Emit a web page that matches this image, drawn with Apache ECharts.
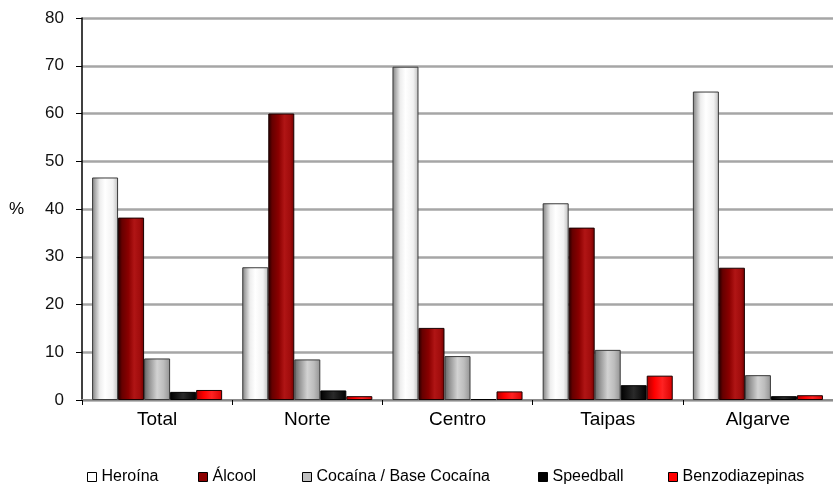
<!DOCTYPE html>
<html>
<head>
<meta charset="utf-8">
<script src="https://cdn.jsdelivr.net/npm/echarts@6/dist/echarts.min.js"></script>
<style>
html,body{margin:0;padding:0;background:#fff;}
#chart{width:833px;height:484px;}
</style>
</head>
<body>
<div id="chart"></div>
<script>
const categories = ['Total', 'Norte', 'Centro', 'Taipas', 'Algarve'];
const seriesNames = ['Heroína', 'Álcool', 'Cocaína / Base Cocaína', 'Speedball', 'Benzodiazepinas'];
const heroina = [46.6, 27.8, 69.8, 41.2, 64.6];
const alcool = [38.2, 60.0, 15.1, 36.1, 27.7];
const cocaina = [8.7, 8.5, 9.2, 10.5, 5.2];
const speedball = [1.7, 2.0, 0.2, 3.1, 0.8];
const benzo = [2.1, 0.8, 1.8, 5.1, 1.0];
const yTicks = [0, 10, 20, 30, 40, 50, 60, 70, 80];

const seriesData = [heroina, alcool, cocaina, speedball, benzo];

function grad(stops) {
  return {type: 'linear', x: 0, y: 0, x2: 1, y2: 0,
    colorStops: stops.map(s => ({offset: s[0], color: s[1]}))};
}
const fills = [
  grad([[0,'#7e7e7e'],[0.12,'#acacac'],[0.3,'#eeeeee'],[0.5,'#ffffff'],[0.8,'#f2f2f2'],[1,'#bdbdbd']]),
  grad([[0,'#220000'],[0.15,'#660000'],[0.4,'#8b0000'],[0.62,'#b01515'],[0.85,'#a00c0c'],[1,'#700000']]),
  grad([[0,'#666666'],[0.2,'#949494'],[0.5,'#d2d2d2'],[0.75,'#bdbdbd'],[1,'#939393']]),
  grad([[0,'#000000'],[0.5,'#2a2a2a'],[1,'#000000']]),
  grad([[0,'#aa0000'],[0.3,'#ff0000'],[0.6,'#ff2222'],[1,'#d80000']])
];
const borders = ['#3a3a3a', '#1a0000', '#3a3a3a', '#000000', '#1a0000'];
const legendIcons = ['#ffffff', '#8b0000', '#c0c0c0', '#000000', '#ff0000'];
const legendLeft = [82, 193, 297, 533, 663];

const chart = echarts.init(document.getElementById('chart'), null, {renderer: 'canvas'});

const legends = seriesNames.map((n, i) => ({
  left: legendLeft[i], top: 464, orient: 'horizontal',
  selectedMode: false, icon: 'rect', itemWidth: 9, itemHeight: 9,
  textStyle: {fontFamily: 'Liberation Sans', fontSize: 16, color: '#000'},
  data: [{name: n, itemStyle: {color: legendIcons[i], borderColor: '#000', borderWidth: 1}}]
}));

chart.setOption({
  animation: false,
  backgroundColor: '#fff',
  legend: legends,
  grid: {left: 82, top: 18, width: 756, bottom: 84, containLabel: false},
  xAxis: {
    type: 'category', data: categories,
    axisLine: {lineStyle: {color: '#8c8c8c', width: 2}},
    axisTick: {show: true, length: 5, lineStyle: {color: '#000', width: 1}},
    axisLabel: {fontFamily: 'Liberation Sans', fontSize: 19, color: '#000', margin: 10},
    splitLine: {show: false}
  },
  yAxis: {
    type: 'value', min: yTicks[0], max: yTicks[yTicks.length - 1], interval: 10,
    name: '%', nameLocation: 'middle', nameGap: 58, nameRotate: 0,
    nameTextStyle: {fontFamily: 'Liberation Sans', fontSize: 17, color: '#000'},
    axisLine: {show: true, lineStyle: {color: '#000', width: 1.5}},
    axisTick: {show: true, length: 6, lineStyle: {color: '#000', width: 1}},
    axisLabel: {fontFamily: 'Liberation Sans', fontSize: 17, color: '#111', margin: 18},
    splitLine: {show: true, lineStyle: {color: '#a6a6a6', width: 2.5}}
  },
  series: seriesNames.map((n, i) => ({
    name: n, type: 'bar', data: seriesData[i],
    barGap: '0%', barCategoryGap: '13.4%',
    itemStyle: {color: fills[i], borderColor: borders[i], borderWidth: 1}
  }))
});
</script>
</body>
</html>
